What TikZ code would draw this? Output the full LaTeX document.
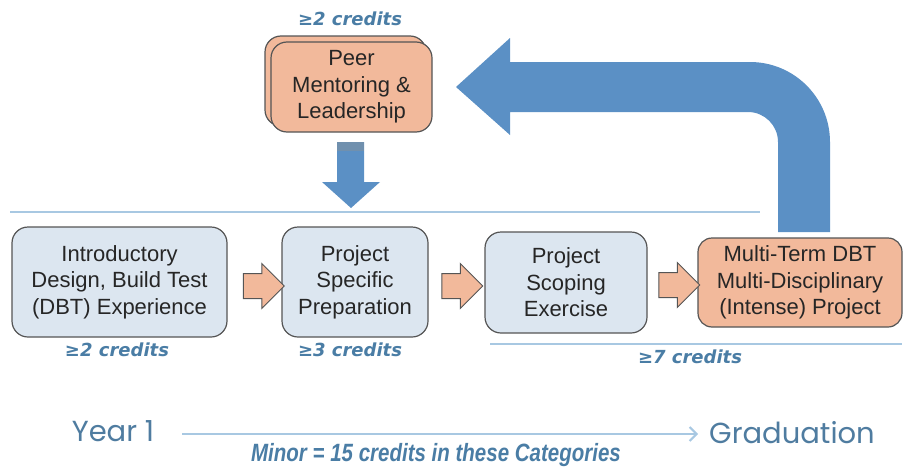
\documentclass[tikz,border=0pt]{standalone}
\usepackage{fontspec}
\setmainfont{Liberation Sans}
\newfontfamily\narrowfont[FakeStretch=0.82]{Liberation Sans}
\newfontfamily\widefont{DejaVu Sans}
\newfontfamily\gothicfont{Poppins}
\usepackage{xcolor}
\usetikzlibrary{shapes,arrows.meta,positioning,calc}

\definecolor{boxblue}{HTML}{DCE6F0}
\definecolor{boxorange}{HTML}{F2B99B}
\definecolor{edgegrey}{HTML}{555555}
\definecolor{creditblue}{HTML}{4A7DA5}
\definecolor{lineblue}{HTML}{A8C8E2}
\definecolor{bigblue}{HTML}{5B90C5}
\definecolor{bandblue}{HTML}{7090AE}
\definecolor{yearblue}{HTML}{4F7CA0}

\begin{document}
\begin{tikzpicture}[x=1pt,y=-1pt,
    box/.style={draw=edgegrey,line width=1.2pt,rounded corners=16pt,align=center,
        font=\fontsize{22}{26.5}\selectfont,text=black!85,inner sep=0pt},
    credits/.style={text=creditblue,font=\widefont\fontsize{18}{20}\selectfont\bfseries\itshape},
    blockarrow/.style={single arrow,draw=edgegrey,line width=1pt,fill=boxorange,
        inner xsep=0pt,inner ysep=12pt,text height=0pt,text depth=0pt,text width=0pt,
        single arrow head extend=10pt,minimum height=41pt}]
    \useasboundingbox (0,0) rectangle (905,466);

    % stacked card at the top
    \node[draw=edgegrey,line width=1.2pt,rounded corners=16pt,fill=boxorange,
        minimum width=161pt,minimum height=90pt] (peerback) at (345.5,81) {};
    \node[box,fill=boxorange,minimum width=161pt,minimum height=90pt] (peer) at (351.5,87)
        {Peer\\Mentoring \&\\Leadership};
    \node[credits] (peercr) at (350,19) {≥2 credits};

    % row of categories
    \node[box,fill=boxblue,minimum width=215pt,minimum height=110pt] (intro) at (119.5,282)
        {Introductory\\Design, Build Test\\(DBT) Experience};
    \node[box,fill=boxblue,minimum width=146pt,minimum height=110pt] (prep) at (355,282)
        {Project\\Specific\\Preparation};
    \node[box,fill=boxblue,minimum width=162pt,minimum height=101pt] (scope) at (566,282.5)
        {Project\\Scoping\\Exercise};
    \node[box,fill=boxorange,rounded corners=14pt,minimum width=204pt,minimum height=89pt] (multi) at (800,282.5)
        {Multi-Term DBT\\Multi-Disciplinary\\(Intense) Project};

    \node[blockarrow] (arrA) at (257.5,286) {};
    \node[blockarrow] (arrB) at (456,286) {};
    \node[blockarrow] (arrC) at (673,285) {};

    \node[credits] (introcr) at (117,350) {≥2 credits};
    \node[credits] (prepcr) at (350,350) {≥3 credits};
    \node[credits] (multicr) at (690,357) {≥7 credits};

    % rules above and below the row
    \coordinate (topL) at (10,212);
    \coordinate (topR) at (760,212);
    \coordinate (lowL) at (490,344);
    \coordinate (lowR) at (902,344);
    \draw[lineblue,line width=2pt] (topL) -- (topR);
    \draw[lineblue,line width=2pt] (lowL) -- (lowR);

    % down arrow from the card
    \fill[bigblue] (337,142) -- (364,142) -- (364,182) -- (380,182) -- (351,208)
        -- (322,182) -- (337,182) -- cycle;
    \fill[bandblue] (337,142) rectangle (364,151);

    % bent arrow back to the card
    \fill[bigblue] (830,232) -- (830,142) arc[start angle=0,end angle=-90,radius=80]
        -- (510,62) -- (510,38) -- (456,87) -- (510,135) -- (510,112) -- (748,112)
        arc[start angle=-90,end angle=0,radius=30] -- (778,232) -- cycle;

    % time line
    \node[text=yearblue,font=\gothicfont\fontsize{29}{32}\selectfont] (year) at (113,431) {Year 1};
    \node[text=yearblue,font=\gothicfont\fontsize{29}{32}\selectfont] (grad) at (792,433) {Graduation};
    \coordinate (lineS) at (182,434);
    \coordinate (lineE) at (698,434);
    \draw[lineblue,line width=2pt,-{Straight Barb[length=7pt,width=14pt]}] (lineS) -- (lineE);
    \node[text=creditblue,font=\narrowfont\fontsize{25}{28}\selectfont\bfseries\itshape] (minor) at (436,455)
        {Minor = 15 credits in these Categories};
\end{tikzpicture}
\end{document}
